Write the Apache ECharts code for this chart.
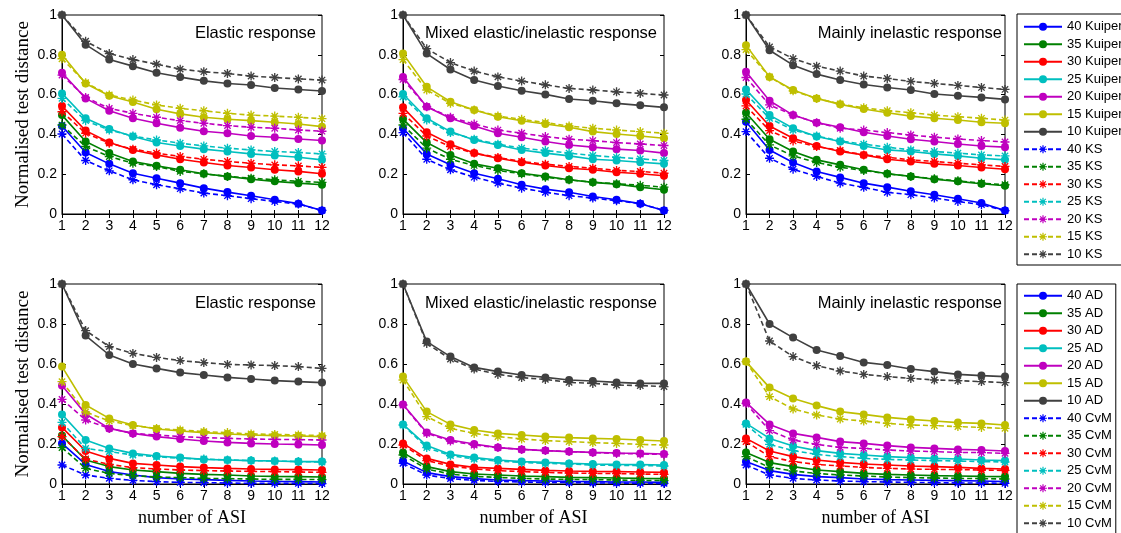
<!DOCTYPE html>
<html><head><meta charset="utf-8">
<script src="https://cdn.jsdelivr.net/npm/echarts@6/dist/echarts.min.js"></script>
<style>html,body{margin:0;padding:0;background:#fff;}#c{width:1121px;height:533px;}</style>
</head><body><div id="c"></div>
<script>
// ---------------- DATA ----------------
const asiCounts = [1,2,3,4,5,6,7,8,9,10,11,12];
const sampleSizes = [40,35,30,25,20,15,10];
const panelTitles = ['Elastic response','Mixed elastic/inelastic response','Mainly inelastic response'];
const topTests = ['Kuiper','KS'];
const bottomTests = ['AD','CvM'];

// rows follow sampleSizes order: 40,35,30,25,20,15,10
const elasticKuiper = [
 [0.442,0.309,0.252,0.205,0.180,0.155,0.130,0.110,0.092,0.072,0.052,0.018],
 [0.497,0.364,0.306,0.264,0.242,0.222,0.202,0.189,0.175,0.164,0.155,0.147],
 [0.543,0.419,0.359,0.322,0.297,0.275,0.259,0.244,0.234,0.222,0.214,0.202],
 [0.606,0.481,0.427,0.389,0.359,0.342,0.326,0.314,0.302,0.294,0.285,0.272],
 [0.710,0.581,0.519,0.481,0.456,0.434,0.416,0.406,0.392,0.386,0.377,0.369],
 [0.800,0.656,0.594,0.563,0.526,0.503,0.486,0.476,0.469,0.461,0.452,0.439],
 [1.000,0.851,0.776,0.743,0.710,0.688,0.669,0.656,0.648,0.633,0.626,0.618]];
const elasticKS = [
 [0.402,0.269,0.217,0.172,0.147,0.127,0.105,0.092,0.077,0.063,0.050,0.018],
 [0.447,0.339,0.289,0.255,0.239,0.214,0.202,0.189,0.180,0.172,0.164,0.159],
 [0.514,0.406,0.356,0.326,0.306,0.289,0.275,0.264,0.255,0.247,0.242,0.234],
 [0.581,0.469,0.422,0.392,0.372,0.356,0.342,0.331,0.322,0.314,0.309,0.302],
 [0.698,0.586,0.531,0.506,0.486,0.469,0.456,0.444,0.436,0.431,0.422,0.416],
 [0.780,0.660,0.598,0.573,0.548,0.531,0.519,0.506,0.497,0.492,0.486,0.479],
 [1.000,0.868,0.806,0.776,0.753,0.728,0.715,0.706,0.693,0.686,0.679,0.673]];
const mixedKuiper = [
 [0.431,0.302,0.247,0.205,0.177,0.147,0.125,0.109,0.088,0.072,0.052,0.018],
 [0.477,0.359,0.297,0.252,0.230,0.205,0.189,0.172,0.159,0.150,0.135,0.122],
 [0.536,0.411,0.351,0.306,0.280,0.260,0.244,0.230,0.222,0.210,0.202,0.192],
 [0.603,0.481,0.414,0.372,0.347,0.322,0.306,0.292,0.275,0.269,0.260,0.252],
 [0.689,0.539,0.481,0.442,0.406,0.386,0.364,0.347,0.336,0.326,0.319,0.306],
 [0.806,0.639,0.564,0.523,0.489,0.469,0.452,0.436,0.414,0.402,0.392,0.381],
 [1.000,0.806,0.726,0.673,0.643,0.619,0.601,0.578,0.569,0.556,0.546,0.536]];
const mixedKS = [
 [0.409,0.275,0.222,0.185,0.155,0.130,0.109,0.092,0.080,0.067,0.052,0.018],
 [0.447,0.331,0.275,0.244,0.219,0.202,0.185,0.172,0.160,0.152,0.144,0.135],
 [0.506,0.392,0.339,0.306,0.284,0.264,0.250,0.239,0.230,0.219,0.214,0.205],
 [0.589,0.472,0.409,0.376,0.351,0.331,0.319,0.306,0.294,0.285,0.277,0.269],
 [0.676,0.539,0.486,0.452,0.422,0.406,0.389,0.376,0.369,0.359,0.352,0.344],
 [0.776,0.623,0.556,0.523,0.492,0.476,0.459,0.442,0.431,0.422,0.414,0.406],
 [1.000,0.831,0.761,0.718,0.689,0.668,0.649,0.631,0.623,0.614,0.606,0.598]];
const inelasticKuiper = [
 [0.464,0.322,0.259,0.214,0.184,0.155,0.135,0.114,0.097,0.077,0.055,0.017],
 [0.509,0.376,0.314,0.272,0.247,0.222,0.202,0.189,0.175,0.164,0.152,0.142],
 [0.573,0.442,0.381,0.342,0.314,0.297,0.275,0.264,0.252,0.244,0.234,0.225],
 [0.626,0.497,0.431,0.389,0.364,0.342,0.322,0.314,0.302,0.292,0.280,0.272],
 [0.715,0.569,0.497,0.459,0.436,0.411,0.392,0.376,0.364,0.352,0.342,0.336],
 [0.848,0.689,0.623,0.581,0.551,0.528,0.509,0.492,0.481,0.472,0.461,0.456],
 [1.000,0.823,0.748,0.703,0.673,0.651,0.636,0.623,0.603,0.594,0.586,0.576]];
const inelasticKS = [
 [0.414,0.280,0.225,0.189,0.155,0.134,0.109,0.097,0.080,0.063,0.047,0.017],
 [0.476,0.347,0.292,0.259,0.235,0.219,0.202,0.189,0.177,0.167,0.155,0.147],
 [0.543,0.419,0.367,0.339,0.319,0.297,0.285,0.272,0.264,0.255,0.247,0.239],
 [0.603,0.481,0.422,0.392,0.367,0.351,0.336,0.322,0.314,0.306,0.297,0.292],
 [0.686,0.548,0.497,0.459,0.431,0.422,0.409,0.397,0.386,0.377,0.369,0.362],
 [0.826,0.689,0.619,0.581,0.553,0.534,0.519,0.509,0.497,0.489,0.481,0.472],
 [1.000,0.840,0.781,0.743,0.718,0.693,0.681,0.666,0.656,0.646,0.636,0.626]];
const elasticAD = [
 [0.203,0.098,0.062,0.045,0.032,0.025,0.022,0.018,0.015,0.013,0.012,0.010],
 [0.242,0.120,0.087,0.070,0.062,0.053,0.048,0.045,0.040,0.038,0.037,0.035],
 [0.283,0.165,0.128,0.103,0.095,0.087,0.082,0.078,0.075,0.073,0.072,0.070],
 [0.348,0.220,0.178,0.153,0.140,0.132,0.123,0.120,0.117,0.115,0.112,0.112],
 [0.492,0.350,0.278,0.253,0.237,0.225,0.215,0.208,0.203,0.200,0.198,0.195],
 [0.587,0.395,0.328,0.295,0.275,0.265,0.257,0.250,0.245,0.242,0.240,0.237],
 [1.000,0.742,0.645,0.600,0.578,0.557,0.545,0.533,0.525,0.517,0.512,0.507]];
const elasticCvM = [
 [0.095,0.045,0.028,0.018,0.012,0.008,0.007,0.005,0.003,0.003,0.003,0.002],
 [0.182,0.078,0.053,0.042,0.035,0.032,0.028,0.027,0.025,0.023,0.023,0.022],
 [0.237,0.125,0.098,0.082,0.075,0.070,0.067,0.065,0.063,0.062,0.060,0.058],
 [0.308,0.178,0.162,0.145,0.137,0.128,0.125,0.120,0.117,0.115,0.112,0.110],
 [0.423,0.320,0.278,0.253,0.245,0.237,0.232,0.228,0.225,0.223,0.222,0.220],
 [0.512,0.360,0.315,0.292,0.278,0.270,0.262,0.257,0.250,0.248,0.245,0.242],
 [1.000,0.767,0.687,0.653,0.633,0.617,0.607,0.598,0.595,0.592,0.587,0.578]];
const mixedAD = [
 [0.115,0.057,0.037,0.027,0.020,0.017,0.015,0.013,0.012,0.010,0.010,0.008],
 [0.157,0.087,0.062,0.050,0.045,0.040,0.037,0.033,0.032,0.030,0.028,0.027],
 [0.203,0.128,0.098,0.083,0.078,0.073,0.068,0.065,0.063,0.062,0.060,0.058],
 [0.298,0.192,0.148,0.132,0.120,0.112,0.108,0.103,0.100,0.098,0.097,0.095],
 [0.398,0.258,0.220,0.200,0.182,0.173,0.167,0.162,0.158,0.155,0.153,0.150],
 [0.537,0.362,0.298,0.270,0.253,0.245,0.237,0.232,0.228,0.225,0.220,0.215],
 [1.000,0.712,0.637,0.583,0.562,0.545,0.533,0.520,0.515,0.508,0.503,0.503]];
const mixedCvM = [
 [0.103,0.045,0.027,0.018,0.013,0.010,0.008,0.007,0.005,0.005,0.003,0.003],
 [0.145,0.075,0.050,0.038,0.033,0.028,0.025,0.023,0.022,0.020,0.018,0.017],
 [0.195,0.117,0.090,0.075,0.067,0.062,0.058,0.055,0.053,0.052,0.050,0.048],
 [0.295,0.182,0.142,0.125,0.115,0.108,0.103,0.100,0.095,0.093,0.092,0.090],
 [0.395,0.253,0.215,0.195,0.182,0.173,0.167,0.162,0.157,0.153,0.150,0.148],
 [0.520,0.337,0.278,0.253,0.237,0.225,0.217,0.212,0.207,0.203,0.198,0.195],
 [1.000,0.703,0.625,0.575,0.548,0.532,0.523,0.508,0.503,0.495,0.492,0.487]];
const inelasticAD = [
 [0.112,0.067,0.048,0.037,0.032,0.025,0.022,0.020,0.018,0.017,0.015,0.012],
 [0.157,0.107,0.087,0.070,0.062,0.053,0.048,0.045,0.042,0.040,0.038,0.037],
 [0.228,0.165,0.137,0.120,0.108,0.100,0.095,0.090,0.087,0.083,0.078,0.075],
 [0.303,0.228,0.190,0.167,0.153,0.145,0.137,0.132,0.128,0.125,0.120,0.117],
 [0.408,0.298,0.253,0.233,0.212,0.203,0.192,0.183,0.178,0.173,0.170,0.165],
 [0.612,0.482,0.428,0.392,0.362,0.348,0.333,0.323,0.315,0.307,0.303,0.295],
 [1.000,0.800,0.732,0.670,0.640,0.608,0.595,0.575,0.562,0.548,0.542,0.537]];
const inelasticCvM = [
 [0.095,0.045,0.028,0.020,0.015,0.012,0.010,0.008,0.007,0.005,0.005,0.003],
 [0.137,0.083,0.065,0.053,0.045,0.040,0.035,0.032,0.030,0.028,0.027,0.025],
 [0.212,0.137,0.112,0.098,0.090,0.083,0.078,0.075,0.073,0.072,0.070,0.068],
 [0.298,0.198,0.167,0.148,0.137,0.128,0.123,0.120,0.117,0.115,0.112,0.110],
 [0.403,0.267,0.220,0.198,0.183,0.178,0.170,0.165,0.162,0.158,0.157,0.153],
 [0.612,0.437,0.375,0.345,0.325,0.315,0.303,0.295,0.292,0.287,0.283,0.278],
 [1.000,0.715,0.637,0.592,0.565,0.548,0.537,0.528,0.520,0.517,0.512,0.507]];

// ---------------- STYLE / LAYOUT ----------------
const sizeColors = ['#0000FF','#008000','#FF0000','#00BFBF','#BF00BF','#BFBF00','#404040'];
const STAR = 'path://M-1.5,-10L1.5,-10L1.5,10L-1.5,10Z M-10,-1.5L10,-1.5L10,1.5L-10,1.5Z M-6,-8.1L8.1,6L6,8.1L-8.1,-6Z M6,-8.1L8.1,-6L-6,8.1L-8.1,6Z';
const gridLefts = [62, 403, 746];
const gridWidths = [260, 261, 259];
const gridTops = [15, 284];
const gridHeights = [199, 200];
const titleRights = [805, 464, 119];
const titleTops = [25, 295];
const SANS = 'Liberation Sans, Arial, sans-serif';
const SERIF = 'Liberation Serif, Times New Roman, serif';

const panelData = [
  [elasticKuiper, elasticKS], [mixedKuiper, mixedKS], [inelasticKuiper, inelasticKS],
  [elasticAD, elasticCvM], [mixedAD, mixedCvM], [inelasticAD, inelasticCvM]
];

const grids = [], xAxes = [], yAxes = [], series = [], titles = [];
for (let p = 0; p < 6; p++) {
  const row = Math.floor(p / 3), col = p % 3;
  grids.push({left: gridLefts[col], top: gridTops[row], width: gridWidths[col], height: gridHeights[row],
    show: true, borderColor: '#000', borderWidth: 1, backgroundColor: '#fff'});
  titles.push({text: panelTitles[col], right: titleRights[col], top: titleTops[row], padding: 0,
    textStyle: {fontFamily: SANS, fontSize: 16.5, fontWeight: 'normal', color: '#000'}});
}
for (let p = 0; p < 6; p++) {
  const row = Math.floor(p / 3), col = p % 3;
  xAxes.push({type: 'value', gridIndex: p, min: 1, max: 12, interval: 1, position: 'bottom',
    axisLine: {lineStyle: {color: '#000', width: 1}},
    axisTick: {inside: true, length: 4, lineStyle: {color: '#000'}},
    axisLabel: {color: '#000', fontFamily: SANS, fontSize: 14, margin: 5},
    splitLine: {show: false},
    name: row === 1 ? 'number of ASI' : '', nameLocation: 'middle', nameGap: 25,
    nameTextStyle: {fontFamily: SERIF, fontSize: 18, color: '#000'}});
  yAxes.push({type: 'value', gridIndex: p, min: 0, max: 1, interval: 0.2, position: 'left',
    axisLine: {show: true, lineStyle: {color: '#000', width: 1}},
    axisTick: {show: true, inside: true, length: 4, lineStyle: {color: '#000'}},
    axisLabel: {color: '#000', fontFamily: SANS, fontSize: 14, margin: 5},
    splitLine: {show: false},
    name: col === 0 ? 'Normalised test distance' : '', nameLocation: 'middle', nameGap: 29,
    nameTextStyle: {fontFamily: SERIF, fontSize: 19, color: '#000'}});
}
for (let p = 0; p < 6; p++) {
  xAxes.push({type: 'value', gridIndex: p, min: 1, max: 12, interval: 1, position: 'top',
    axisLine: {show: false}, axisTick: {inside: true, length: 4, lineStyle: {color: '#000'}},
    axisLabel: {show: false}, splitLine: {show: false}});
  yAxes.push({type: 'value', gridIndex: p, min: 0, max: 1, interval: 0.2, position: 'right',
    axisLine: {show: false}, axisTick: {show: true, inside: true, length: 4, lineStyle: {color: '#000'}},
    axisLabel: {show: false}, splitLine: {show: false}});
}

const topNames = [], bottomNames = [];
for (let p = 0; p < 6; p++) {
  const row = Math.floor(p / 3);
  const tests = row === 0 ? topTests : bottomTests;
  for (let t = 0; t < 2; t++) {
    const arr = panelData[p][t];
    for (let i = 0; i < sampleSizes.length; i++) {
      const name = sampleSizes[i] + ' ' + tests[t];
      if (p === 0) topNames.push(name);
      if (p === 3) bottomNames.push(name);
      series.push({
        type: 'line', name: name, xAxisIndex: p, yAxisIndex: p,
        data: asiCounts.map((x, j) => [x, arr[i][j]]),
        color: sizeColors[i],
        symbol: t === 0 ? 'circle' : STAR,
        symbolSize: t === 0 ? 8 : 9,
        showSymbol: true, clip: false,
        lineStyle: {width: 1.6, type: t === 0 ? 'solid' : [5, 3], color: sizeColors[i]},
        itemStyle: {color: sizeColors[i]},
        emphasis: {disabled: true},
        z: 2 + t
      });
    }
  }
}

const legendCommon = {type: 'plain', orient: 'vertical', left: 1017, itemWidth: 38, itemHeight: 10, itemGap: 0,
  height: 300,
  padding: [4, 4, 2, 6], borderColor: '#000', borderWidth: 1, backgroundColor: '#fff',
  textStyle: {fontFamily: SANS, fontSize: 13, color: '#000', lineHeight: 17.5}, selectedMode: false};

const option = {
  animation: false,
  backgroundColor: '#fff',
  title: titles,
  grid: grids, xAxis: xAxes, yAxis: yAxes, series: series,
  legend: [
    Object.assign({}, legendCommon, {top: 14, data: topNames, padding: [4, 10, 2, 6]}),
    Object.assign({}, legendCommon, {top: 284, data: bottomNames, padding: [3, 4, 2, 6]})
  ]
};
const chart = echarts.init(document.getElementById('c'), null, {renderer: 'canvas'});
chart.setOption(option);
</script></body></html>
